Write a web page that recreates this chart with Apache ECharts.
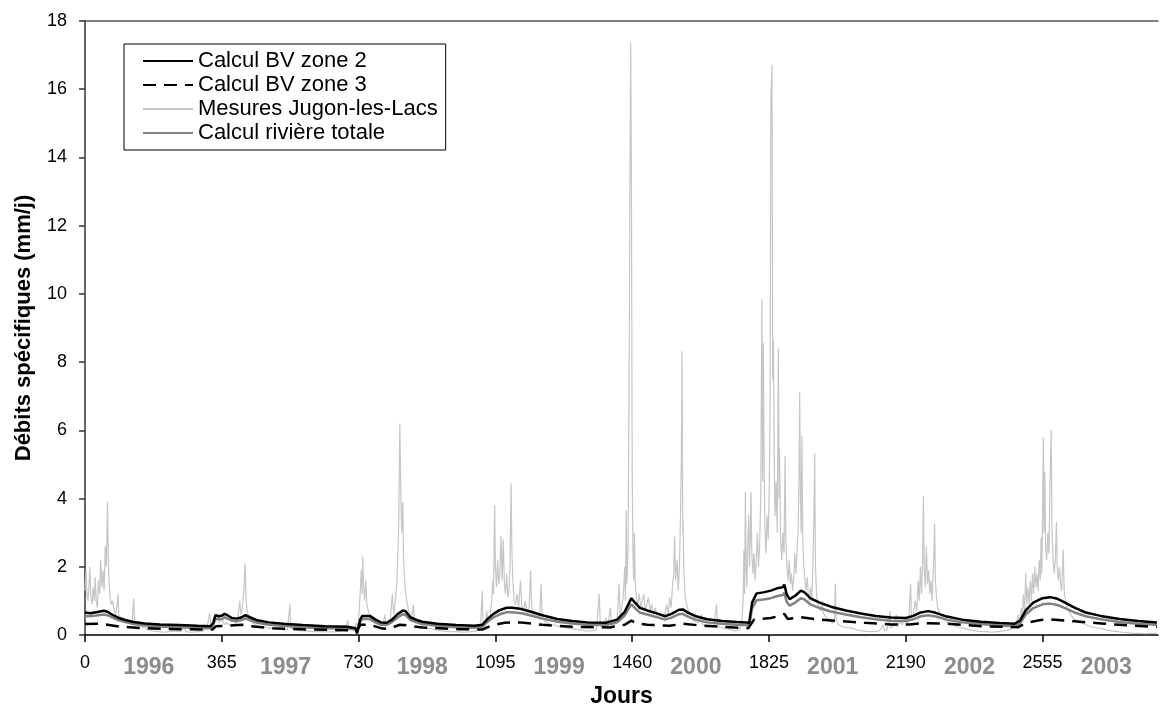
<!DOCTYPE html>
<html>
<head>
<meta charset="utf-8">
<script src="https://cdn.jsdelivr.net/npm/echarts@6/dist/echarts.min.js"></script>
<style>
  html, body { margin: 0; padding: 0; background: #ffffff; }
  #chart { width: 1160px; height: 713px; }
</style>
</head>
<body>
<div id="chart"></div>
<script>
// Débits spécifiques journaliers (mm/j), jours comptés depuis le 1er janvier 1996

const seriesNames = ['Calcul BV zone 2', 'Calcul BV zone 3', 'Mesures Jugon-les-Lacs', 'Calcul rivière totale'];

const dayTicks = [0, 365, 730, 1095, 1460, 1825, 2190, 2555];
const yearLabels = ['1996', '1997', '1998', '1999', '2000', '2001', '2002', '2003'];
const yTicks = [0, 2, 4, 6, 8, 10, 12, 14, 16, 18];

// [jour, débit]
const calcZone2 = [
  [0,0.66],[15,0.64],[30,0.67],[50,0.71],[60,0.68],[75,0.58],[90,0.5],[110,0.43],[130,0.38],[160,0.34],
  [200,0.31],[250,0.29],[300,0.27],[335,0.26],[342,0.35],[348,0.58],[358,0.55],[366,0.57],[372,0.62],[380,0.58],
  [392,0.5],[405,0.48],[418,0.52],[428,0.58],[440,0.52],[460,0.43],[490,0.37],[530,0.33],[580,0.29],[640,0.26],
  [700,0.24],[722,0.2],[726,0.05],[734,0.45],[740,0.56],[760,0.56],[775,0.45],[790,0.37],[805,0.36],[818,0.44],
  [835,0.62],[848,0.72],[855,0.7],[868,0.52],[885,0.44],[900,0.39],[940,0.33],[990,0.29],[1040,0.27],[1060,0.3],
  [1075,0.48],[1090,0.62],[1105,0.72],[1125,0.8],[1140,0.8],[1165,0.76],[1190,0.68],[1220,0.58],[1260,0.47],[1300,0.41],
  [1340,0.37],[1390,0.36],[1420,0.45],[1440,0.68],[1452,0.95],[1458,1.08],[1465,0.98],[1480,0.8],[1500,0.72],[1530,0.62],
  [1548,0.55],[1565,0.62],[1585,0.74],[1595,0.75],[1610,0.65],[1630,0.55],[1660,0.46],[1700,0.41],[1740,0.38],[1765,0.37],
  [1772,0.35],[1780,0.95],[1792,1.22],[1810,1.25],[1830,1.3],[1850,1.38],[1862,1.4],[1866,1.48],[1872,1.2],[1880,1.05],
  [1895,1.15],[1910,1.3],[1920,1.25],[1935,1.08],[1960,0.95],[1990,0.83],[2030,0.72],[2070,0.63],[2110,0.56],[2150,0.51],
  [2190,0.5],[2210,0.56],[2230,0.66],[2250,0.7],[2270,0.65],[2300,0.54],[2340,0.45],[2390,0.39],[2440,0.35],[2480,0.33],
  [2495,0.42],[2510,0.72],[2530,0.95],[2555,1.08],[2575,1.11],[2595,1.06],[2615,0.95],[2640,0.8],[2670,0.66],[2710,0.56],
  [2760,0.47],[2810,0.41],[2860,0.37]
];

const calcZone3 = [
  [0,0.32],[40,0.33],[60,0.3],[90,0.25],[150,0.2],[250,0.17],[340,0.16],[350,0.26],[380,0.27],[420,0.3],
  [440,0.26],[500,0.2],[600,0.16],[700,0.14],[725,0.12],[735,0.3],[760,0.3],[790,0.2],[810,0.18],[840,0.3],
  [860,0.28],[900,0.22],[1000,0.17],[1060,0.16],[1085,0.28],[1120,0.36],[1160,0.37],[1220,0.3],[1300,0.24],[1400,0.22],
  [1440,0.3],[1458,0.42],[1470,0.35],[1500,0.3],[1560,0.27],[1595,0.33],[1640,0.28],[1700,0.24],[1770,0.2],[1785,0.45],
  [1830,0.5],[1850,0.55],[1866,0.62],[1875,0.47],[1910,0.52],[1950,0.46],[2000,0.42],[2080,0.36],[2150,0.31],[2200,0.31],
  [2240,0.35],[2300,0.33],[2400,0.25],[2490,0.23],[2510,0.35],[2550,0.44],[2570,0.46],[2640,0.4],[2720,0.33],[2800,0.27],
  [2860,0.24]
];

const mesuresJugon = [
  [0,1.3],[3,1.9],[5,1.2],[8,1.0],[11,1.5],[13,2.0],[16,1.1],[19,0.9],[22,1.4],[25,1.0],
  [27,1.7],[30,1.0],[33,0.8],[36,1.6],[39,1.2],[42,2.2],[45,1.4],[48,1.9],[51,1.3],[54,2.6],
  [57,2.0],[60,3.9],[62,2.4],[64,1.6],[67,1.1],[70,0.9],[73,1.0],[76,0.8],[79,0.7],[82,0.6],
  [85,0.8],[88,1.2],[90,0.6],[95,0.5],[100,0.45],[105,0.5],[110,0.4],[115,0.35],[120,0.4],[125,0.3],
  [130,1.07],[132,0.4],[140,0.28],[150,0.25],[160,0.2],[170,0.15],[180,0.12],[195,0.1],[210,0.08],[225,0.1],
  [240,0.12],[255,0.1],[265,0.2],[270,0.1],[285,0.08],[300,0.1],[315,0.12],[325,0.2],[333,0.64],[336,0.2],
  [342,0.3],[346,0.55],[350,0.4],[355,0.6],[358,0.35],[362,0.5],[368,0.4],[372,0.3],[378,0.35],[385,0.3],
  [392,0.28],[400,0.3],[405,0.4],[410,0.7],[413,1.0],[416,0.6],[420,0.8],[424,1.3],[427,2.1],[430,1.0],
  [433,0.7],[437,0.5],[442,0.45],[448,0.35],[455,0.3],[465,0.25],[480,0.22],[495,0.2],[510,0.18],[525,0.16],
  [540,0.15],[547,0.9],[549,0.2],[560,0.15],[575,0.13],[590,0.12],[610,0.1],[630,0.1],[650,0.09],[670,0.1],
  [685,0.12],[692,0.3],[695,0.12],[701,0.44],[704,0.15],[712,0.2],[718,0.15],[724,0.35],[728,0.2],
  [732,0.8],[735,1.4],[737,1.9],[739,1.2],[741,2.3],[743,1.5],[746,1.0],[749,1.6],[752,0.9],[756,0.7],
  [760,0.6],[765,0.5],[770,0.45],[775,0.4],[780,0.35],[785,0.3],[790,0.35],[795,0.3],[800,0.6],[803,0.3],
  [808,0.25],[815,0.5],[820,1.2],[824,0.6],[828,1.0],[832,1.5],[835,2.5],[837,3.2],[840,6.2],[843,4.0],
  [845,3.0],[848,3.9],[850,2.2],[853,1.6],[856,1.2],[860,0.9],[864,0.7],[868,0.6],[872,0.5],[876,0.9],
  [879,0.45],[885,0.4],[890,0.35],[896,0.3],[905,0.25],[915,0.2],[925,0.18],[940,0.15],[955,0.12],[970,0.1],
  [990,0.1],[1010,0.08],[1030,0.1],[1045,0.12],[1055,0.2],[1060,1.3],[1062,0.3],[1068,0.25],[1072,0.7],[1075,0.35],
  [1080,0.5],[1085,1.0],[1088,1.6],[1090,1.2],[1093,3.8],[1095,2.0],[1098,1.4],[1101,2.2],[1104,1.5],[1107,1.8],
  [1110,2.9],[1113,1.6],[1116,2.8],[1119,1.5],[1122,1.2],[1125,1.8],[1128,1.1],[1131,1.3],[1134,2.0],[1137,4.45],
  [1139,2.5],[1142,1.5],[1145,1.0],[1149,0.9],[1153,1.2],[1157,0.8],[1162,1.6],[1165,0.9],[1170,0.7],[1175,1.0],
  [1180,0.6],[1185,0.8],[1189,1.9],[1192,0.8],[1197,0.6],[1202,0.5],[1208,0.6],[1213,0.45],[1217,1.5],[1220,0.5],
  [1228,0.4],[1235,0.35],[1245,0.3],[1255,0.28],[1265,0.25],[1278,0.22],[1290,0.2],[1305,0.18],[1320,0.15],[1335,0.12],
  [1350,0.12],[1365,0.15],[1372,1.2],[1375,0.3],[1382,0.2],[1390,0.5],[1395,0.3],[1402,0.8],[1405,0.3],[1412,0.25],
  [1420,0.5],[1425,1.5],[1428,0.5],[1432,0.8],[1436,1.1],[1440,2.0],[1442,1.0],[1444,3.66],[1446,1.5],[1449,2.5],
  [1452,8.0],[1454,13.3],[1456,17.36],[1458,13.27],[1460,5.0],[1462,2.5],[1464,1.6],[1466,3.0],[1468,1.6],[1471,1.1],
  [1475,0.9],[1479,1.2],[1483,0.8],[1487,1.0],[1491,1.2],[1495,0.7],[1499,0.9],[1503,1.1],[1508,0.7],[1512,0.9],
  [1517,0.6],[1522,0.8],[1527,0.5],[1532,0.6],[1537,0.45],[1542,0.5],[1547,0.6],[1552,0.9],[1556,0.6],[1560,1.1],
  [1564,0.8],[1568,1.5],[1571,1.8],[1573,2.89],[1576,1.6],[1580,2.2],[1583,1.3],[1586,2.0],[1589,3.5],[1591,5.0],
  [1593,8.32],[1595,3.0],[1596,3.37],[1598,1.8],[1601,1.2],[1605,0.9],[1610,0.7],[1615,0.55],[1620,0.45],[1628,0.4],
  [1636,0.35],[1645,0.6],[1648,0.3],[1656,0.28],[1665,0.25],[1678,0.25],[1685,0.9],[1688,0.3],[1695,0.22],[1705,0.2],
  [1715,0.18],[1725,0.15],[1735,0.12],[1745,0.15],[1752,0.3],
  [1756,1.0],[1758,2.5],[1760,1.2],[1762,4.2],[1764,2.0],[1766,1.4],[1768,2.5],[1771,3.52],[1773,2.0],[1775,2.8],
  [1777,4.2],[1779,2.5],[1782,1.8],[1785,2.4],[1788,1.6],[1791,2.2],[1794,3.0],[1797,2.0],[1800,2.6],[1803,4.0],
  [1806,9.84],[1808,4.5],[1810,8.55],[1812,5.0],[1814,3.2],[1817,2.4],[1820,3.5],[1823,2.8],[1826,4.5],[1828,7.0],
  [1830,15.62],[1833,16.72],[1835,7.5],[1837,8.66],[1839,5.0],[1841,3.5],[1844,4.5],[1847,3.0],[1850,8.43],[1852,4.0],
  [1853,5.47],[1856,2.8],[1859,2.2],[1862,3.0],[1865,2.4],[1868,5.25],[1870,2.8],[1873,2.0],[1876,1.6],[1879,2.2],
  [1882,1.5],[1885,1.8],[1888,1.3],[1891,1.6],[1894,2.4],[1897,1.8],[1900,2.5],[1903,3.2],[1905,4.5],[1907,7.12],
  [1909,4.0],[1911,3.0],[1913,5.84],[1915,2.8],[1918,2.0],[1921,1.6],[1924,1.3],[1927,1.7],[1930,1.2],[1933,1.0],
  [1936,1.4],[1939,1.0],[1942,2.0],[1945,3.5],[1947,5.33],[1949,2.0],[1952,1.2],[1955,0.9],[1959,0.8],[1963,0.7],
  [1967,1.0],[1970,0.65],[1975,0.55],[1980,0.5],[1985,0.45],[1990,0.4],[1995,0.35],[2000,0.5],[2002,1.5],[2004,0.5],
  [2010,0.3],[2020,0.25],[2030,0.22],[2045,0.2],[2060,0.15],[2075,0.12],[2090,0.1],[2105,0.1],[2120,0.12],[2130,0.3],
  [2133,0.12],[2140,0.15],[2148,0.7],[2150,0.2],[2158,0.3],[2165,0.6],[2168,0.25],[2175,0.4],[2180,0.3],[2188,0.5],
  [2192,0.3],[2198,0.45],[2203,1.5],[2205,0.5],[2210,0.6],[2215,1.0],[2219,0.7],[2223,1.6],[2226,1.0],[2229,2.0],
  [2232,1.2],[2235,2.2],[2237,4.07],[2239,2.0],[2242,1.4],[2245,2.6],[2248,1.5],[2251,1.9],[2254,1.2],[2257,1.6],
  [2260,1.0],[2263,1.8],[2265,2.4],[2267,3.26],[2269,1.6],[2272,1.1],[2275,0.8],[2280,0.65],[2285,0.55],[2290,0.5],
  [2296,0.42],[2303,0.35],[2310,0.3],[2320,0.28],[2330,0.22],[2345,0.2],[2360,0.15],[2375,0.12],[2390,0.1],[2405,0.1],
  [2420,0.08],[2435,0.1],[2450,0.12],[2465,0.15],[2475,0.2],[2485,0.3],
  [2490,0.6],[2493,0.3],[2498,0.8],[2500,0.4],[2504,1.2],[2507,0.6],[2510,1.8],[2513,0.9],[2516,1.4],[2519,0.9],
  [2522,1.6],[2525,1.0],[2528,1.8],[2531,1.2],[2534,2.0],[2537,1.4],[2540,1.8],[2543,1.3],[2546,2.2],[2549,1.6],
  [2551,2.85],[2553,1.8],[2555,3.5],[2557,5.79],[2559,3.0],[2561,4.78],[2563,2.6],[2566,2.2],[2569,3.0],[2572,2.4],
  [2575,4.52],[2578,6.02],[2580,3.2],[2583,2.2],[2586,1.8],[2589,2.2],[2592,3.32],[2594,2.0],[2597,1.6],[2600,2.0],
  [2603,1.5],[2606,1.3],[2610,2.5],[2613,1.2],[2617,1.0],[2621,0.8],[2625,0.7],[2630,0.6],[2636,0.5],[2642,0.45],
  [2650,0.4],[2660,0.35],[2670,0.3],[2682,0.25],[2695,0.22],[2710,0.2],[2725,0.15],[2740,0.12],[2755,0.1],[2770,0.08],
  [2785,0.06],[2800,0.05],[2815,0.05],[2830,0.04],[2845,0.05],[2860,0.05]
];

const calcRiviere = [
  [0,0.56],[15,0.55],[30,0.57],[50,0.6],[60,0.58],[75,0.5],[90,0.43],[110,0.37],[130,0.32],[160,0.28],
  [200,0.25],[250,0.23],[300,0.21],[335,0.2],[342,0.28],[348,0.48],[358,0.46],[366,0.47],[372,0.52],[380,0.48],
  [392,0.42],[405,0.4],[418,0.44],[428,0.49],[440,0.44],[460,0.36],[490,0.3],[530,0.27],[580,0.23],[640,0.2],
  [700,0.19],[722,0.16],[726,0.05],[734,0.38],[740,0.47],[760,0.47],[775,0.37],[790,0.3],[805,0.3],[818,0.37],
  [835,0.52],[848,0.61],[855,0.59],[868,0.44],[885,0.37],[900,0.32],[940,0.27],[990,0.23],[1040,0.21],[1060,0.24],
  [1075,0.4],[1090,0.52],[1105,0.6],[1125,0.67],[1140,0.67],[1165,0.64],[1190,0.57],[1220,0.48],[1260,0.39],[1300,0.34],
  [1340,0.3],[1390,0.29],[1420,0.37],[1440,0.57],[1452,0.8],[1458,0.9],[1465,0.82],[1480,0.66],[1500,0.6],[1530,0.51],
  [1548,0.45],[1565,0.51],[1585,0.61],[1595,0.62],[1610,0.53],[1630,0.45],[1660,0.37],[1700,0.33],[1740,0.3],[1765,0.29],
  [1772,0.28],[1780,0.78],[1792,1.02],[1810,1.04],[1830,1.08],[1850,1.15],[1862,1.17],[1866,1.24],[1872,0.98],[1880,0.86],
  [1895,0.95],[1910,1.08],[1920,1.04],[1935,0.9],[1960,0.79],[1990,0.69],[2030,0.6],[2070,0.52],[2110,0.46],[2150,0.42],
  [2190,0.41],[2210,0.46],[2230,0.55],[2250,0.58],[2270,0.54],[2300,0.45],[2340,0.37],[2390,0.32],[2440,0.28],[2480,0.26],
  [2495,0.34],[2510,0.6],[2530,0.79],[2555,0.9],[2575,0.92],[2595,0.88],[2615,0.79],[2640,0.66],[2670,0.55],[2710,0.46],
  [2760,0.38],[2810,0.33],[2860,0.3]
];

const FONT = 'Liberation Sans, Arial, sans-serif';
const DAY_MAX = 2863;

// Each year label sits about mid-way through its year
const yearLabelDays = dayTicks.map(d => d + 170);

const chart = echarts.init(document.getElementById('chart'), null, { renderer: 'canvas' });

chart.setOption({
  animation: false,
  backgroundColor: '#ffffff',
  textStyle: { fontFamily: FONT },
  grid: { left: 85, right: 2, top: 21, bottom: 73, containLabel: false },
  legend: {
    orient: 'vertical',
    left: 124,
    top: 44,
    data: seriesNames,
    backgroundColor: '#ffffff',
    borderColor: '#000000',
    borderWidth: 1,
    borderRadius: 0,
    padding: [5, 8, 5, 18],
    itemWidth: 50,
    itemHeight: 14,
    itemGap: 0,
    selectedMode: false,
    itemStyle: { opacity: 0 },
    lineStyle: { opacity: 1 },
    textStyle: { fontFamily: FONT, fontSize: 22, lineHeight: 24, color: '#000000' }
  },
  xAxis: [
    {
      type: 'value',
      position: 'bottom',
      min: 0,
      max: DAY_MAX,
      name: 'Jours',
      nameLocation: 'middle',
      nameGap: 50,
      nameTextStyle: { fontFamily: FONT, fontSize: 23, fontWeight: 'bold', color: '#000000' },
      axisLine: { show: true, onZero: false, lineStyle: { color: '#000000', width: 1.5 } },
      axisTick: { show: true, inside: false, length: 7, customValues: dayTicks, lineStyle: { color: '#000000', width: 1.5 } },
      axisLabel: {
        customValues: dayTicks, margin: 19, fontFamily: FONT, fontSize: 18, color: '#000000',
        formatter: v => String(v)
      },
      splitLine: { show: false }
    },
    {
      type: 'value',
      position: 'bottom',
      min: 0,
      max: DAY_MAX,
      axisLine: { show: false },
      axisTick: { show: false },
      axisLabel: {
        customValues: yearLabelDays,
        margin: 21,
        fontFamily: FONT,
        fontSize: 23,
        fontWeight: 'bold',
        color: '#8c8c8c',
        formatter: v => yearLabels[yearLabelDays.indexOf(v)] || ''
      },
      splitLine: { show: false }
    },
    {
      type: 'value',
      position: 'top',
      min: 0,
      max: DAY_MAX,
      axisLine: { show: true, onZero: false, lineStyle: { color: '#555555', width: 1.5 } },
      axisTick: { show: false },
      axisLabel: { show: false },
      splitLine: { show: false }
    }
  ],
  yAxis: {
    type: 'value',
    min: yTicks[0],
    max: yTicks[yTicks.length - 1],
    interval: 2,
    name: 'Débits spécifiques (mm/j)',
    nameLocation: 'middle',
    nameGap: 50,
    nameRotate: 90,
    nameTextStyle: { fontFamily: FONT, fontSize: 22, fontWeight: 'bold', color: '#000000' },
    axisLine: { show: true, onZero: false, lineStyle: { color: '#333333', width: 1.5 } },
    axisTick: { show: true, inside: false, length: 6, lineStyle: { color: '#333333', width: 1.5 } },
    axisLabel: { margin: 18, fontFamily: FONT, fontSize: 18, color: '#000000' },
    splitLine: { show: false }
  },
  series: [
    {
      name: seriesNames[0], type: 'line', data: calcZone2, z: 5,
      showSymbol: false, symbol: 'none',
      lineStyle: { color: '#000000', width: 2.5 }, itemStyle: { color: '#000000' }
    },
    {
      name: seriesNames[1], type: 'line', data: calcZone3, z: 4,
      showSymbol: false, symbol: 'none',
      lineStyle: { color: '#000000', width: 2.5, type: [13, 8] }, itemStyle: { color: '#000000' }
    },
    {
      name: seriesNames[2], type: 'line', data: mesuresJugon, z: 2,
      showSymbol: false, symbol: 'none', sampling: null,
      lineStyle: { color: '#c6c6c6', width: 1.2 }, itemStyle: { color: '#c6c6c6' }
    },
    {
      name: seriesNames[3], type: 'line', data: calcRiviere, z: 3,
      showSymbol: false, symbol: 'none',
      lineStyle: { color: '#828282', width: 2.5 }, itemStyle: { color: '#828282' }
    }
  ]
});
</script>
</body>
</html>
